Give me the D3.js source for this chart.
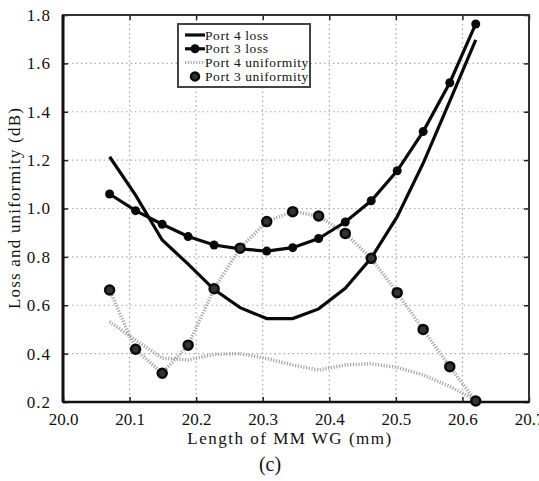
<!DOCTYPE html>
<html>
<head>
<meta charset="utf-8">
<script src="https://cdn.jsdelivr.net/npm/d3@7"></script>
<style>
  body { margin: 0; background: #fff; }
</style>
</head>
<body>
<svg id="chart" width="539" height="481" font-family="Liberation Serif"></svg>
<script>
// lengths of the MM waveguide (mm)
var lengths = [20.070, 20.109, 20.149, 20.188, 20.227, 20.266, 20.306, 20.345,
               20.384, 20.424, 20.463, 20.502, 20.541, 20.581, 20.620];

var port4Loss = [1.214, 1.055, 0.87, 0.77, 0.665, 0.59, 0.545, 0.545,
                 0.585, 0.67, 0.795, 0.966, 1.187, 1.444, 1.697];
var port3Loss = [1.06, 0.991, 0.935, 0.884, 0.849, 0.833, 0.824, 0.838,
                 0.876, 0.944, 1.032, 1.156, 1.318, 1.52, 1.763];
var port4Unif = [0.532, 0.456, 0.381, 0.374, 0.397, 0.40, 0.38, 0.353,
                 0.332, 0.353, 0.358, 0.343, 0.312, 0.264, 0.208];
var port3Unif = [0.663, 0.418, 0.319, 0.435, 0.668, 0.836, 0.946, 0.987,
                 0.969, 0.897, 0.794, 0.652, 0.50, 0.346, 0.204];

var xTicks = [20.0, 20.1, 20.2, 20.3, 20.4, 20.5, 20.6, 20.7];
var xTickLabels = ["20.0", "20.1", "20.2", "20.3", "20.4", "20.5", "20.6", "20.7"];
var yTicks = [0.2, 0.4, 0.6, 0.8, 1.0, 1.2, 1.4, 1.6, 1.8];

var legendNames = ["Port 4 loss", "Port 3 loss", "Port 4 uniformity", "Port 3 uniformity"];

var serif = "Liberation Serif";

var margin = {top: 15, right: 10, bottom: 79, left: 63},
    width = 539 - margin.left - margin.right,
    height = 481 - margin.top - margin.bottom;

var svg = d3.select("#chart"),
    g = svg.append("g").attr("transform", "translate(" + margin.left + "," + margin.top + ")");

var x = d3.scaleLinear().domain([20.0, 20.7]).range([0, width]);
var y = d3.scaleLinear().domain([0.2, 1.8]).range([height, 0]);

// dotted grid
g.append("g").selectAll("line")
  .data(xTicks.slice(1, -1))
  .enter().append("line")
    .attr("x1", function(d) { return x(d); })
    .attr("x2", function(d) { return x(d); })
    .attr("y1", 0).attr("y2", height)
    .attr("stroke", "#aaa").attr("stroke-width", 1.2).attr("stroke-dasharray", "1.5,3");

g.append("g").selectAll("line")
  .data(yTicks.slice(1, -1))
  .enter().append("line")
    .attr("y1", function(d) { return y(d); })
    .attr("y2", function(d) { return y(d); })
    .attr("x1", 0).attr("x2", width)
    .attr("stroke", "#aaa").attr("stroke-width", 1.2).attr("stroke-dasharray", "1.5,3");

// axes: ticks pointing into the plot on all four sides
var xAxis = g.append("g")
  .attr("transform", "translate(0," + height + ")")
  .call(d3.axisBottom(x).tickValues(xTicks).tickSize(-5).tickPadding(11)
    .tickFormat(function(d, i) { return xTickLabels[i]; }));

var yAxis = g.append("g")
  .call(d3.axisLeft(y).tickValues(yTicks).tickSize(-5).tickPadding(12).tickFormat(d3.format(".1f")));

g.append("g").call(d3.axisTop(x).tickValues(xTicks).tickSize(-5).tickFormat(""));
g.append("g").attr("transform", "translate(" + width + ",0)")
  .call(d3.axisRight(y).tickValues(yTicks).tickSize(-5).tickFormat(""));

g.selectAll(".domain").remove();
g.selectAll(".tick line").attr("stroke", "#222").attr("stroke-width", 1.5);

xAxis.attr("font-family", serif).attr("font-size", 17);
yAxis.attr("font-family", serif).attr("font-size", 17);
xAxis.selectAll("text").attr("fill", "#111");
yAxis.selectAll("text").attr("fill", "#111").attr("letter-spacing", 1);

// frame
g.append("rect")
  .attr("width", width).attr("height", height)
  .attr("fill", "none").attr("stroke", "#333").attr("stroke-width", 2);
g.append("line")
  .attr("x1", 0).attr("x2", 0).attr("y1", 0).attr("y2", height)
  .attr("stroke", "#111").attr("stroke-width", 3);
g.append("line")
  .attr("x1", 0).attr("x2", width).attr("y1", height).attr("y2", height)
  .attr("stroke", "#111").attr("stroke-width", 2.5);

var line = d3.line()
  .x(function(d, i) { return x(lengths[i]); })
  .y(function(d) { return y(d); });

// uniformity curves first (gray dotted)
g.append("path").datum(port4Unif)
  .attr("d", line).attr("fill", "none")
  .attr("stroke", "#a5a5a5").attr("stroke-width", 3.5).attr("stroke-dasharray", "1.2,1.6");

g.append("path").datum(port3Unif)
  .attr("d", line).attr("fill", "none")
  .attr("stroke", "#a5a5a5").attr("stroke-width", 3.5).attr("stroke-dasharray", "1.2,1.6");

// loss curves
g.append("path").datum(port4Loss)
  .attr("d", line).attr("fill", "none")
  .attr("stroke", "#0a0a0a").attr("stroke-width", 3.2);

g.append("path").datum(port3Loss)
  .attr("d", line).attr("fill", "none")
  .attr("stroke", "#0a0a0a").attr("stroke-width", 3.2);

g.selectAll(".p3loss")
  .data(port3Loss)
  .enter().append("circle")
    .attr("class", "p3loss")
    .attr("cx", function(d, i) { return x(lengths[i]); })
    .attr("cy", function(d) { return y(d); })
    .attr("r", 4.5)
    .attr("fill", "#0a0a0a");

g.selectAll(".p3unif")
  .data(port3Unif)
  .enter().append("circle")
    .attr("class", "p3unif")
    .attr("cx", function(d, i) { return x(lengths[i]); })
    .attr("cy", function(d) { return y(d); })
    .attr("r", 4.5)
    .attr("fill", "#333")
    .attr("stroke", "#0a0a0a").attr("stroke-width", 2.5);

// legend
var lg = svg.append("g").attr("transform", "translate(178,24)");
lg.append("rect")
  .attr("width", 132).attr("height", 63)
  .attr("fill", "#fff").attr("stroke", "#444").attr("stroke-width", 2);

var rowY = function(i) { return 11 + i * 13.8; };

lg.append("line").attr("x1", 7).attr("x2", 27).attr("y1", rowY(0)).attr("y2", rowY(0))
  .attr("stroke", "#0a0a0a").attr("stroke-width", 3.2);
lg.append("line").attr("x1", 7).attr("x2", 27).attr("y1", rowY(1)).attr("y2", rowY(1))
  .attr("stroke", "#0a0a0a").attr("stroke-width", 3.2);
lg.append("circle").attr("cx", 17).attr("cy", rowY(1)).attr("r", 4.5).attr("fill", "#0a0a0a");
lg.append("line").attr("x1", 7).attr("x2", 27).attr("y1", rowY(2)).attr("y2", rowY(2))
  .attr("stroke", "#aaa").attr("stroke-width", 3).attr("stroke-dasharray", "1.2,1.6");
lg.append("circle").attr("cx", 17).attr("cy", rowY(3)).attr("r", 4)
  .attr("fill", "#333").attr("stroke", "#0a0a0a").attr("stroke-width", 2.5);

lg.selectAll(".lt")
  .data(legendNames)
  .enter().append("text")
    .attr("class", "lt")
    .attr("x", 27)
    .attr("y", function(d, i) { return rowY(i) + 4.5; })
    .attr("font-family", serif)
    .attr("font-size", 13.5)
    .attr("letter-spacing", 0.6)
    .attr("fill", "#111")
    .text(function(d) { return d; });

// titles
svg.append("text")
  .attr("x", 290).attr("y", 444)
  .attr("text-anchor", "middle")
  .attr("font-family", serif)
  .attr("font-size", 17).attr("letter-spacing", 1.5)
  .attr("fill", "#111")
  .text("Length of MM WG (mm)");

svg.append("text")
  .attr("transform", "translate(20,208) rotate(-90)")
  .attr("text-anchor", "middle")
  .attr("font-family", serif)
  .attr("font-size", 17).attr("letter-spacing", 1.2)
  .attr("fill", "#111")
  .text("Loss and uniformity (dB)");

svg.append("text")
  .attr("x", 270).attr("y", 471)
  .attr("text-anchor", "middle")
  .attr("font-family", serif)
  .attr("font-size", 20)
  .attr("fill", "#111")
  .text("(c)");
</script>
</body>
</html>
